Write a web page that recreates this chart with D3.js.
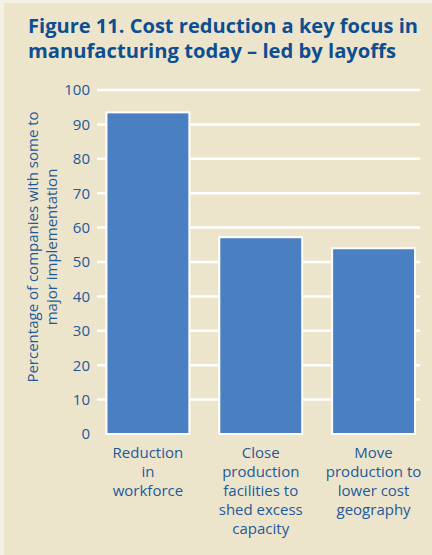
<!DOCTYPE html>
<html>
<head>
    <meta charset='utf-8'>
    <title>Figure 11</title>
    <script src='https://cdn.jsdelivr.net/npm/d3@7/dist/d3.min.js'></script>
    <style>
        body { margin: 0; background: #f5f0e4; }
        text { font-family: 'Open Sans', sans-serif; }
    </style>
</head>
<body>
    <svg width='432' height='555'></svg>
    <script>
        // data
        const categories = [
            'Reduction\nin\nworkforce',
            'Close\nproduction\nfacilities to\nshed excess\ncapacity',
            'Move\nproduction to\nlower cost\ngeography'
        ]
        const values = [93.5, 57.2, 54]
        const yTicks = [0, 10, 20, 30, 40, 50, 60, 70, 80, 90, 100]
        const titleLines = ['Figure 11. Cost reduction a key focus in', 'manufacturing today \u2013 led by layoffs']
        const yTitle = ['Percentage of companies with some to', 'major implementation']

        const textColor = '#1d5a99'
        const svg = d3.select('svg')

        // beige panel
        svg.append('rect')
            .attr('x', 4).attr('y', 3)
            .attr('width', 428).attr('height', 552)
            .attr('fill', '#ede4cc')

        // title
        svg.append('g').selectAll('text').data(titleLines)
            .enter().append('text')
            .attr('x', 28)
            .attr('y', (d, i) => 33 + i * 25)
            .attr('fill', '#0d4e90')
            .attr('font-weight', 'bold')
            .attr('font-size', 20)
            .attr('textLength', (d, i) => i === 0 ? 390 : 368)
            .attr('lengthAdjust', 'spacingAndGlyphs')
            .text(d => d)

        const y = d3.scaleLinear().domain([0, 100]).range([434, 90])
        const x = d3.scaleBand().domain(categories)
            .range([91.5, 430]).paddingInner(0.265).paddingOuter(0.1325)

        // gridlines
        svg.append('g').selectAll('line').data(yTicks.filter(d => d > 0))
            .enter().append('line')
            .attr('x1', 97).attr('x2', 420)
            .attr('y1', d => y(d)).attr('y2', d => y(d))
            .attr('stroke', '#ffffff')
            .attr('stroke-width', 2.5)

        // tick labels
        svg.append('g').selectAll('text').data(yTicks)
            .enter().append('text')
            .attr('x', 90)
            .attr('y', d => y(d))
            .attr('dy', '0.36em')
            .attr('text-anchor', 'end')
            .attr('fill', textColor)
            .attr('font-size', 15)
            .text(d => d)

        // bars
        svg.append('g').selectAll('rect').data(values)
            .enter().append('rect')
            .attr('x', (d, i) => x(categories[i]))
            .attr('y', d => y(d))
            .attr('width', x.bandwidth())
            .attr('height', d => y(0) - y(d))
            .attr('fill', '#4a80c2')
            .attr('stroke', '#ffffff')
            .attr('stroke-width', 2)

        // category labels
        const cat = svg.append('g').selectAll('text').data(categories)
            .enter().append('text')
            .attr('text-anchor', 'middle')
            .attr('fill', textColor)
            .attr('font-size', 15)
        cat.selectAll('tspan').data(d => d.split('\n').map(l => [d, l]))
            .enter().append('tspan')
            .attr('x', d => x(d[0]) + x.bandwidth() / 2)
            .attr('y', (d, i) => 458 + i * 19)
            .text(d => d[1])

        // y axis title
        svg.append('g').attr('transform', 'translate(38,247) rotate(-90)')
            .selectAll('text').data(yTitle)
            .enter().append('text')
            .attr('x', 0)
            .attr('y', (d, i) => i * 19)
            .attr('text-anchor', 'middle')
            .attr('fill', textColor)
            .attr('font-size', 15)
            .text(d => d)
    </script>
</body>
</html>
